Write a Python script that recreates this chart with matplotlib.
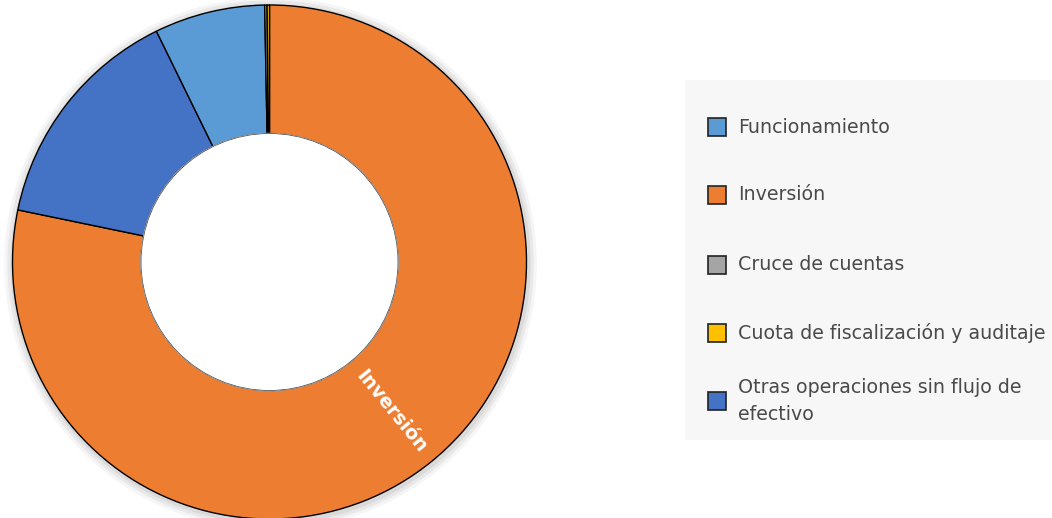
import numpy as np
import matplotlib.pyplot as plt
from matplotlib.patches import Rectangle, Circle

plt.rcParams['font.family'] = ['DejaVu Sans']

# Data (share of total, %), listed in legend order
categories = ['Funcionamiento', 'Inversión', 'Cruce de cuentas',
              'Cuota de fiscalización y auditaje',
              'Otras operaciones sin flujo de efectivo']
values = [6.95, 78.25, 0.15, 0.15, 14.5]
colors = ['#5b9bd5', '#ed7d31', '#a5a5a5', '#ffc000', '#4472c4']
legend_labels = ['Funcionamiento', 'Inversión', 'Cruce de cuentas',
                 'Cuota de fiscalización y auditaje',
                 'Otras operaciones sin flujo de\nefectivo']

# order the wedges are drawn clockwise from the top
draw_order = [1, 4, 0, 2, 3]

W, H = 1052, 518
fig = plt.figure(figsize=(W / 100, H / 100), dpi=100)
fig.patch.set_facecolor('white')

# donut axes: centre (269, 262) px, radius 257 px
cx, cy, R = 269.5, 262, 257
ax = fig.add_axes([(cx - R) / W, (H - cy - R) / H, 2 * R / W, 2 * R / H])
ax.set_xlim(-1, 1)
ax.set_ylim(-1, 1)
ax.set_aspect('equal')
ax.axis('off')

# soft shadow behind the ring
for i, a in enumerate([0.04, 0.05, 0.06]):
    ax.add_patch(Circle((0.004, -0.006), 1.0 + 0.012 * (3 - i), color='black',
                        alpha=a, lw=0, zorder=0, clip_on=False))

vals = [values[i] for i in draw_order]
cols = [colors[i] for i in draw_order]
wedges, _ = ax.pie(vals, colors=cols, startangle=90, counterclock=False,
                   radius=1.0, wedgeprops=dict(width=0.5, edgecolor='black',
                                               linewidth=1.0))
ax.add_patch(Circle((0, 0), 0.5, color='white', zorder=5))
ax.add_patch(Circle((0, 0), 0.5, fill=False, ec='#555555', lw=0.6, zorder=6))
ax.set_xlim(-1, 1)
ax.set_ylim(-1, 1)

# label on the Inversión wedge, radial
w = wedges[0]
mid = np.deg2rad((w.theta1 + w.theta2) / 2)
r_lab = 0.75
ax.text(r_lab * np.cos(mid), r_lab * np.sin(mid), 'Inversión',
        rotation=np.rad2deg(mid), rotation_mode='anchor',
        ha='center', va='center', color='white', fontsize=13.8,
        fontweight='bold', zorder=7)

# legend panel
fig.patches.append(Rectangle((685 / W, 1 - 440 / H), (W - 685) / W, 360 / H,
                             transform=fig.transFigure, facecolor='#f7f7f7',
                             edgecolor='none', zorder=0))
row_y = [127, 195, 265, 333, 401]
for lab, col, y in zip(legend_labels, colors, row_y):
    fig.patches.append(Rectangle((708 / W, 1 - (y + 9) / H), 18 / W, 18 / H,
                                 transform=fig.transFigure, facecolor=col,
                                 edgecolor='#222222', linewidth=1.2, zorder=2))
    fig.text(738 / W, 1 - y / H, lab, ha='left', va='center', fontsize=13.7,
             color='#4a4a4a', linespacing=1.5)

fig.savefig('out.png', dpi=100)
